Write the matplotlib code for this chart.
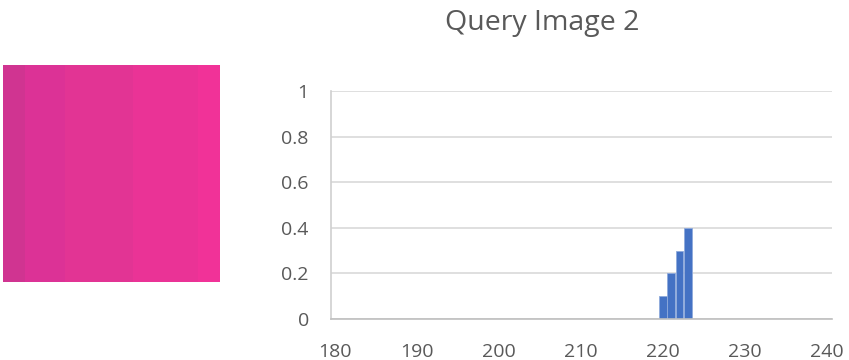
import matplotlib
matplotlib.use('Agg')
import matplotlib.pyplot as plt

# histogram values
bins = [220, 221, 222, 223]
freq = [0.1, 0.2, 0.3, 0.4]
x_ticks = [180, 190, 200, 210, 220, 230, 240]
y_ticks = [0, 0.2, 0.4, 0.6, 0.8, 1]
y_labels = ['0', '0.2', '0.4', '0.6', '0.8', '1']

# query image: vertical colour stripes (pixel widths)
stripe_widths = [22, 40, 68, 65, 22]
stripe_colors = ['#D03491', '#DC3296', '#E23494', '#EA3396', '#F13298']

plt.rcParams['font.family'] = ['Open Sans', 'DejaVu Sans']
txt = '#595959'

fig = plt.figure(figsize=(8.49, 3.6), dpi=100)

# left picture
ax_img = fig.add_axes([3/849, 1-282/360, 217/849, 217/360])
lefts = [sum(stripe_widths[:i]) for i in range(len(stripe_widths))]
ax_img.bar(lefts, 1, width=stripe_widths, align='edge', color=stripe_colors, linewidth=0)
ax_img.set_xlim(0, sum(stripe_widths))
ax_img.set_ylim(0, 1)
ax_img.axis('off')

# chart
ax = fig.add_axes([331/849, 41/360, 501/849, 228/360])
ax.bar(bins, freq, width=0.95, color='#4472C4', edgecolor='#8FAADC', linewidth=0.6, zorder=3)
ax.set_xlim(179.5, 240.6)
ax.set_ylim(0, 1)
ax.set_xticks(x_ticks)
ax.set_yticks(y_ticks)
ax.set_yticklabels(y_labels)
ax.grid(axis='y', color='#D9D9D9', linewidth=1.2, zorder=0)
for s in ['top', 'right']:
    ax.spines[s].set_visible(False)
ax.spines['left'].set_color('#D0D0D0')
ax.spines['left'].set_linewidth(1.2)
ax.spines['bottom'].set_color('#BFBFBF')
ax.spines['bottom'].set_linewidth(1.2)
ax.spines['bottom'].set_zorder(4)
ax.tick_params(length=0, labelsize=14, labelcolor=txt)
ax.tick_params(axis='x', pad=17)
ax.tick_params(axis='y', pad=16)

fig.text(542/849, 1-23/360, 'Query Image 2', ha='center', va='center', fontsize=20.5, color=txt)

fig.savefig('out.png', dpi=100)
